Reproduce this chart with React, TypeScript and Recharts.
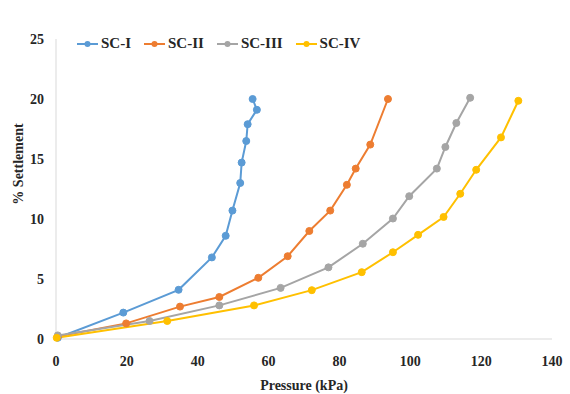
import { LineChart, Line, XAxis, YAxis, Legend } from 'recharts';

const seriesNames = ['SC-I', 'SC-II', 'SC-III', 'SC-IV'];
const seriesColors = ['#5B9BD5', '#ED7D31', '#A5A5A5', '#FFC000'];

const sc1Pressure = [0.5, 19.0, 34.6, 44.0, 47.9, 49.8, 52.0, 52.4, 53.7, 54.1, 56.7, 55.5];
const sc1Settlement = [0.1, 2.2, 4.1, 6.8, 8.6, 10.7, 13.0, 14.7, 16.5, 17.9, 19.1, 20.0];

const sc2Pressure = [0.5, 19.8, 35.0, 46.1, 57.1, 65.4, 71.5, 77.4, 82.1, 84.6, 88.7, 93.7];
const sc2Settlement = [0.2, 1.3, 2.7, 3.5, 5.1, 6.9, 9.0, 10.7, 12.85, 14.2, 16.2, 20.0];

const sc3Pressure = [0.5, 26.4, 46.1, 63.4, 76.9, 86.6, 95.1, 99.7, 107.5, 109.9, 113.0, 116.9];
const sc3Settlement = [0.3, 1.5, 2.8, 4.26, 5.97, 7.94, 10.04, 11.9, 14.2, 16.0, 18.0, 20.1];

const sc4Pressure = [0.2, 31.4, 55.9, 72.2, 86.3, 95.1, 102.2, 109.4, 114.1, 118.6, 125.6, 130.5];
const sc4Settlement = [0.1, 1.5, 2.8, 4.07, 5.57, 7.23, 8.68, 10.17, 12.1, 14.1, 16.8, 19.85];

const xTicks = [0, 20, 40, 60, 80, 100, 120, 140];
const yTicks = [0, 5, 10, 15, 20, 25];

const toPoints = (xs: number[], ys: number[]) => xs.map((x, i) => ({ x, y: ys[i] }));

const allSeries = [
  toPoints(sc1Pressure, sc1Settlement),
  toPoints(sc2Pressure, sc2Settlement),
  toPoints(sc3Pressure, sc3Settlement),
  toPoints(sc4Pressure, sc4Settlement),
];

const font = '"Liberation Serif", "Times New Roman", serif';

function LegendContent() {
  return (
    <div style={{ display: 'flex', alignItems: 'center', fontFamily: font, fontWeight: 'bold', fontSize: 15, color: '#262626' }}>
      {seriesNames.map((name, i) => (
        <div key={name} style={{ display: 'flex', alignItems: 'center', marginRight: 13 }}>
          <svg width={21} height={10} style={{ marginRight: 3 }}>
            <line x1={0} y1={5} x2={21} y2={5} stroke={seriesColors[i]} strokeWidth={2} />
            <circle cx={10.5} cy={5} r={3} fill={seriesColors[i]} />
          </svg>
          <span>{name}</span>
        </div>
      ))}
    </div>
  );
}

export default function App() {
  return (
    <div style={{ position: 'absolute', left: 0, top: 0, width: 570, height: 394, background: '#fff' }}>
      <LineChart width={570} height={394} margin={{ top: 22, right: 18, bottom: 0, left: 0 }}>
        <XAxis
          dataKey="x"
          type="number"
          domain={[0, 140]}
          ticks={xTicks}
          allowDuplicatedCategory={false}
          height={55}
          tickLine={false}
          tickMargin={11}
          stroke="#d9d9d9"
          tick={{ fill: '#262626', fontFamily: font, fontWeight: 'bold', fontSize: 14 }}
          label={{ value: 'Pressure (kPa)', position: 'insideBottom', offset: 4, fill: '#262626', fontFamily: font, fontWeight: 'bold', fontSize: 14 }}
        />
        <YAxis
          dataKey="y"
          type="number"
          domain={[0, 25]}
          ticks={yTicks}
          width={56}
          tickLine={false}
          tickMargin={6}
          stroke="#d9d9d9"
          tick={{ fill: '#262626', fontFamily: font, fontWeight: 'bold', fontSize: 14 }}
          label={{
            content: () => (
              <text
                x={18}
                y={164}
                transform="rotate(-90 18 164)"
                textAnchor="middle"
                dominantBaseline="central"
                fill="#262626"
                fontFamily={font}
                fontWeight="bold"
                fontSize={14}
              >
                % Settlement
              </text>
            ),
          }}
        />
        <Legend
          verticalAlign="top"
          content={<LegendContent />}
          wrapperStyle={{ top: 35, left: 77, width: 'auto' }}
        />
        {allSeries.map((data, i) => (
          <Line
            key={seriesNames[i]}
            data={data}
            dataKey="y"
            name={seriesNames[i]}
            type="linear"
            stroke={seriesColors[i]}
            strokeWidth={2}
            dot={{ r: 3.5, fill: seriesColors[i], stroke: seriesColors[i], strokeWidth: 1 }}
            isAnimationActive={false}
          />
        ))}
      </LineChart>
    </div>
  );
}
